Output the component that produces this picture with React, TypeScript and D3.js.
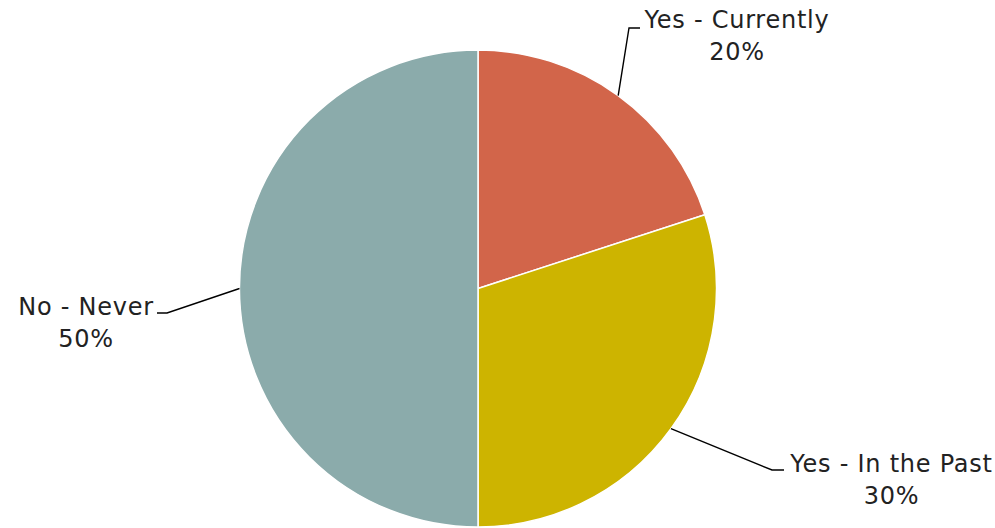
import React from "react";
import * as d3 from "d3";

const categories = ["Yes - Currently", "Yes - In the Past", "No - Never"];
const values = [20, 30, 50];
const colors = ["#D2654A", "#CDB400", "#8BABAB"];

// label layout: elbow point, line end, text block center x and first baseline
const labelLayout = [
  { elbow: [629, 28], end: [640, 28], tx: 737, ty: 28 },
  { elbow: [772, 470], end: [784, 470], tx: 891.5, ty: 472 },
  { elbow: [167, 313], end: [157, 313], tx: 86, ty: 315 },
];

export default function App() {
  const W = 995, H = 528;
  const cx = 478, cy = 288.5, r = 238.5;
  const pie = d3.pie<number>().sort(null).value((d) => d);
  const arcs = pie(values);
  const arc = d3.arc<d3.PieArcDatum<number>>().innerRadius(0).outerRadius(r);
  return (
    <svg width={W} height={H} style={{ position: "absolute", left: 0, top: 0 }}>
      <rect width={W} height={H} fill="#fff" />
      <g transform={`translate(${cx},${cy})`}>
        {arcs.map((a, i) => (
          <path key={i} d={arc(a) || ""} fill={colors[i]} stroke="#fff" strokeWidth={1.5} />
        ))}
      </g>
      {arcs.map((a, i) => {
        const mid = (a.startAngle + a.endAngle) / 2;
        const px = cx + r * Math.sin(mid);
        const py = cy - r * Math.cos(mid);
        const L = labelLayout[i];
        return (
          <g key={i}>
            <polyline
              points={`${px},${py} ${L.elbow[0]},${L.elbow[1]} ${L.end[0]},${L.end[1]}`}
              fill="none"
              stroke="#000"
              strokeWidth={1.4}
            />
            <text
              x={L.tx}
              y={L.ty}
              textAnchor="middle"
              fontFamily="'DejaVu Sans', sans-serif"
              fontSize={24}
              letterSpacing={0.75}
              fill="#222"
            >
              <tspan x={L.tx}>{categories[i]}</tspan>
              <tspan x={L.tx} dy={32}>{`${values[i]}%`}</tspan>
            </text>
          </g>
        );
      })}
    </svg>
  );
}
